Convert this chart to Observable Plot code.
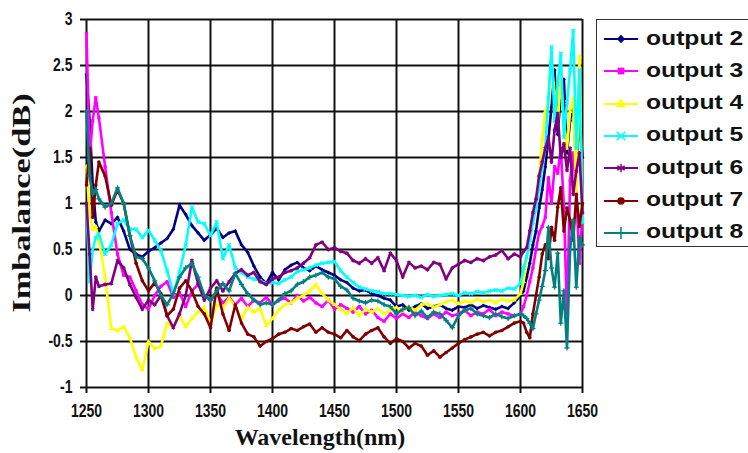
<!DOCTYPE html>
<html>
<head>
<meta charset="utf-8">
<script src="https://cdn.jsdelivr.net/npm/d3@7"></script>
<script src="https://cdn.jsdelivr.net/npm/@observablehq/plot@0.6"></script>
<style>
  html, body { margin: 0; padding: 0; background: #fff; }
  #wrap { position: relative; width: 748px; height: 453px; overflow: hidden; background: #fff; }
  #chart svg { display: block; }
  #xlabel { position: absolute; left: 0; width: 640px; top: 425px; text-align: center;
    font: bold 24px "Liberation Serif", "Times New Roman", serif; line-height: 24px; color: #111; white-space: nowrap; }
  #ylabel { position: absolute; left: 22px; top: 203px; white-space: nowrap;
    font: bold 26px "Liberation Serif", "Times New Roman", serif; line-height: 26px; color: #111;
    transform: translate(-50%, -50%) rotate(-90deg) scaleX(1.32); }
  #legend { position: absolute; left: 596px; top: 19px; width: 170px; height: 226px;
    border: 1.5px solid #333; background: #fff; }
  .entry { position: absolute; left: 6px; height: 20px; display: flex; align-items: center; }
  .entry svg { display: block; }
  .entry span { display: inline-block; margin-left: 7px; font: bold 18px "Liberation Sans", Arial, sans-serif;
    color: #111; transform: scale(1.37, 1.08); transform-origin: left center; white-space: nowrap; }
  svg [aria-label$="tick"] { stroke-width: 2; }
</style>
</head>
<body>
<div id="wrap">
  <div id="chart"></div>
  <div id="xlabel">Wavelength(nm)</div>
  <div id="ylabel">Imbalance(dB)</div>
  <div id="legend"></div>
</div>
<script>
const wavelengths = [1250,1252.5,1255,1257.5,1260,
  1265,1270,1275,1280,1285,1290,1295,1300,1305,1310,
  1315,1320,1325,1330,1335,1340,1345,1350,1355,1360,
  1365,1370,1375,1380,1385,1390,1395,1400,1405,1410,
  1415,1420,1425,1430,1435,1440,1445,1450,1455,1460,
  1465,1470,1475,1480,1485,1490,1495,1500,1505,1510,
  1515,1520,1525,1530,1535,1540,1545,1550,1555,1560,
  1565,1570,1575,1580,1585,1590,1595,1600,
  1602.5,1605,1607.5,1610,1612.5,1615,1617.5,1620,1622.5,1625,
  1627.5,1630,1632.5,1635,1637.5,1640,1642.5,1645,1647.5,1650];

const output2 = [2.4,1.9,1.2,0.8,0.7,
  0.82,0.78,0.85,0.7,0.5,0.45,0.42,0.48,0.52,0.57,
  0.62,0.72,0.98,0.88,0.76,0.68,0.6,0.66,0.73,0.63,
  0.68,0.7,0.55,0.47,0.32,0.2,0.13,0.25,0.17,0.28,
  0.33,0.36,0.3,0.27,0.32,0.28,0.25,0.22,0.17,0.14,
  0.08,0.05,0.06,0.02,0,-0.03,-0.05,-0.12,-0.1,-0.16,
  -0.12,-0.09,-0.14,-0.12,-0.1,-0.14,-0.16,-0.12,-0.13,-0.1,
  -0.14,-0.11,-0.13,-0.15,-0.12,-0.14,-0.08,0,
  0.05,0.2,0.35,0.55,0.7,0.95,1.15,1.4,1.7,2.05,
  2.45,1.75,2.2,2.35,1.55,1.9,2.1,1.35,1.9,1.5];

const output3 = [2.85,1.5,1.9,2.15,1.93,
  1.4,0.9,0.45,0.22,0.2,0.05,-0.1,-0.15,0,0.1,
  0.15,-0.02,0.03,-0.12,0.05,0.12,0,-0.05,0.02,-0.08,
  -0.02,-0.1,-0.03,-0.12,-0.05,-0.08,-0.02,-0.1,-0.05,-0.03,
  -0.08,0,-0.06,-0.02,-0.08,-0.12,-0.05,-0.15,-0.1,-0.14,
  -0.18,-0.12,-0.2,-0.16,-0.24,-0.28,-0.2,-0.25,-0.2,-0.24,
  -0.18,-0.22,-0.25,-0.2,-0.24,-0.18,-0.22,-0.2,-0.16,-0.22,
  -0.18,-0.2,-0.15,-0.22,-0.18,-0.2,-0.22,-0.2,
  -0.12,0,0.15,0.3,0.5,0.68,0.75,0.85,1.28,1.0,
  1.4,1.33,1.6,0.96,-0.2,1.25,1.55,1.1,0.35,0.9];

const output4 = [1.4,0.9,0.72,0.75,0.6,
  0.2,-0.36,-0.38,-0.34,-0.46,-0.67,-0.81,-0.5,-0.58,-0.55,
  -0.3,-0.35,-0.22,-0.34,-0.25,-0.18,-0.13,-0.3,-0.1,-0.14,
  -0.03,-0.12,-0.25,-0.13,-0.18,-0.14,-0.33,-0.25,-0.16,-0.1,
  -0.08,-0.03,0,0.05,0.12,0.02,-0.05,-0.1,-0.15,-0.2,
  -0.13,-0.22,-0.15,-0.18,-0.14,-0.2,-0.16,-0.13,-0.17,-0.12,
  -0.16,-0.1,-0.09,-0.13,-0.1,-0.07,-0.05,-0.09,-0.06,-0.08,
  -0.04,-0.07,-0.05,-0.08,-0.04,-0.06,-0.05,0.02,
  0.15,0.4,0.6,0.8,0.95,1.3,1.7,2.0,2.1,2.55,
  2.2,1.87,2.35,1.9,1.6,2.0,2.15,1.1,2.6,0.8];

const output5 = [0.95,0.15,0.5,0.63,0.67,
  0.45,0.55,0.78,0.82,0.72,0.72,0.63,0.71,0.6,0.49,
  0.27,0.02,0.25,0.55,0.96,0.8,0.78,0.65,0.8,0.4,
  0.55,0.3,0.25,0.2,0.18,0.16,0.13,0.14,0.13,0.17,
  0.2,0.26,0.28,0.3,0.33,0.35,0.36,0.37,0.27,0.2,
  0.14,0.09,0.07,0.05,0.04,0.02,0.02,0.01,0,-0.01,
  0,-0.02,0.01,-0.01,0,0.01,0.02,0,0.03,0.02,
  0.04,0.03,0.05,0.06,0.05,0.08,0.07,0.13,
  0.3,0.42,0.6,0.8,0.95,1.17,1.4,1.6,2.15,2.7,
  1.9,2.3,2.63,1.72,2.1,2.45,2.88,1.6,2.45,0.8];

const output6 = [1.0,0.45,-0.15,0.2,0.1,
  0.12,0.13,0.38,0.3,0.12,-0.02,-0.15,-0.05,-0.1,0,
  -0.22,-0.35,-0.2,0,0.38,0.13,-0.05,0.08,0.16,0.05,
  0.15,0.24,0.28,0.22,0.25,0.15,0.12,0.18,0.2,0.25,
  0.27,0.3,0.35,0.41,0.55,0.58,0.5,0.52,0.48,0.46,
  0.38,0.35,0.4,0.35,0.41,0.27,0.46,0.38,0.2,0.36,
  0.3,0.32,0.28,0.36,0.34,0.18,0.3,0.34,0.38,0.36,
  0.4,0.38,0.42,0.44,0.49,0.4,0.45,0.42,
  0.48,0.52,0.7,0.9,1.05,1.3,1.45,1.6,1.72,1.45,
  1.8,1.98,1.5,1.65,1.36,1.6,1.1,1.35,1.55,0.9];

const output7 = [1.2,1.6,0.85,1.2,1.45,
  1.3,0.98,1.15,1.0,0.65,0.35,0.16,0.05,0.14,0.02,
  -0.22,-0.15,0.08,0.16,0.05,-0.12,-0.2,-0.35,0.08,-0.2,
  -0.38,-0.1,-0.3,-0.42,-0.45,-0.55,-0.5,-0.47,-0.42,-0.4,
  -0.36,-0.38,-0.34,-0.31,-0.4,-0.35,-0.4,-0.42,-0.46,-0.38,
  -0.45,-0.49,-0.42,-0.38,-0.35,-0.45,-0.52,-0.47,-0.5,-0.57,
  -0.52,-0.55,-0.65,-0.6,-0.67,-0.62,-0.57,-0.52,-0.48,-0.45,
  -0.42,-0.4,-0.44,-0.4,-0.38,-0.34,-0.3,-0.28,
  -0.3,-0.4,-0.46,-0.2,0,0.2,0.45,0.55,0.4,0.74,
  0.6,0.96,1.17,0.7,0.95,0.82,0.6,1.1,0.75,1.0];

const output8 = [2.0,1.3,1.1,1.15,1.05,
  0.96,1.0,1.17,1.0,0.65,0.42,0.4,0.3,0.16,0,
  -0.1,0.02,0.2,0.3,0.35,0.2,0,-0.05,0.05,0.13,
  0.05,0.24,0.12,0.02,-0.05,-0.1,-0.08,-0.1,-0.05,0.02,
  0.05,0.12,0.15,0.2,0.22,0.25,0.2,0.18,0.1,0.06,
  -0.03,-0.06,-0.08,-0.05,-0.06,-0.1,-0.12,-0.2,-0.15,-0.13,
  -0.22,-0.17,-0.24,-0.18,-0.2,-0.27,-0.35,-0.22,-0.16,-0.14,
  -0.2,-0.22,-0.24,-0.2,-0.23,-0.25,-0.22,-0.2,
  -0.22,-0.25,-0.3,-0.36,-0.2,-0.05,0.1,0.27,0.74,0.3,
  0.09,0.46,-0.3,0.05,-0.57,0.5,0.82,0.09,0.63,0.55];

const seriesNames = ["output 2","output 3","output 4","output 5","output 6","output 7","output 8"];
const seriesColors = ["#000080","#FF00FF","#FFFF00","#00FFFF","#800080","#800000","#008080"];
const seriesSymbols = ["diamond2","square","triangle","times","asterisk","circle","plus"];
const seriesValues = [output2, output3, output4, output5, output6, output7, output8];
const xTicks = [1250,1300,1350,1400,1450,1500,1550,1600,1650];
const yTicks = [-1,-0.5,0,0.5,1,1.5,2,2.5,3];

const strokeSymbols = new Set(["times","asterisk","plus"]);

const marks = [
  Plot.ruleX(xTicks, {stroke: "#111", strokeWidth: 2}),
  Plot.ruleY(yTicks, {stroke: "#111", strokeWidth: 2})
];
seriesValues.forEach((vals, i) => {
  const rows = wavelengths.map((w, j) => ({w, v: vals[j]}));
  const color = seriesColors[i];
  marks.push(Plot.line(rows, {x: "w", y: "v", stroke: color, strokeWidth: 2.6}));
  const isStroke = strokeSymbols.has(seriesSymbols[i]);
  marks.push(Plot.dot(rows, {x: "w", y: "v", symbol: () => seriesSymbols[i], r: 1.8,
    fill: isStroke ? "none" : color, stroke: isStroke ? color : "none", strokeWidth: 1.2}));
});

const chart = Plot.plot({
  width: 748, height: 453,
  marginLeft: 86, marginRight: 166, marginTop: 19, marginBottom: 66,
  style: {background: "white", color: "#111", fontFamily: "'Liberation Sans', Arial, sans-serif",
    fontSize: "14px", fontWeight: "bold", overflow: "visible"},
  x: {domain: [1250, 1650], ticks: xTicks, tickFormat: d => String(d), tickSize: 6, tickPadding: 11, label: null},
  y: {domain: [-1, 3], ticks: yTicks, tickFormat: d => String(d), tickSize: 6, tickPadding: 8, label: null},
  symbol: {type: "identity"},
  marks
});
document.getElementById("chart").appendChild(chart);

// slightly condensed tick labels, as in the reference
let labels = chart.querySelectorAll('g[aria-label="x-axis tick label"] text, g[aria-label="y-axis tick label"] text');
if (labels.length === 0) labels = chart.querySelectorAll('.tick text');
labels.forEach(t => {
  const tr = t.getAttribute("transform") || "";
  t.setAttribute("transform", (tr + " scale(1,1.3)").trim());
});

// legend
const d3Symbols = {diamond2: d3.symbolDiamond2, square: d3.symbolSquare, triangle: d3.symbolTriangle,
  times: d3.symbolTimes, asterisk: d3.symbolAsterisk, circle: d3.symbolCircle, plus: d3.symbolPlus};
const legend = d3.select("#legend");
seriesNames.forEach((name, i) => {
  const entry = legend.append("div").attr("class", "entry").style("top", (9 + i * 32.3) + "px");
  const s = entry.append("svg").attr("width", 36).attr("height", 16);
  s.append("line").attr("x1", 1).attr("x2", 35).attr("y1", 8).attr("y2", 8)
    .attr("stroke", seriesColors[i]).attr("stroke-width", 2);
  const isStroke = strokeSymbols.has(seriesSymbols[i]);
  s.append("path").attr("transform", "translate(18,8)")
    .attr("d", d3.symbol(d3Symbols[seriesSymbols[i]], isStroke ? 50 : 45)())
    .attr("fill", isStroke ? "none" : seriesColors[i])
    .attr("stroke", isStroke ? seriesColors[i] : "none").attr("stroke-width", 1.5);
  entry.append("span").text(name);
});
</script>
</body>
</html>
